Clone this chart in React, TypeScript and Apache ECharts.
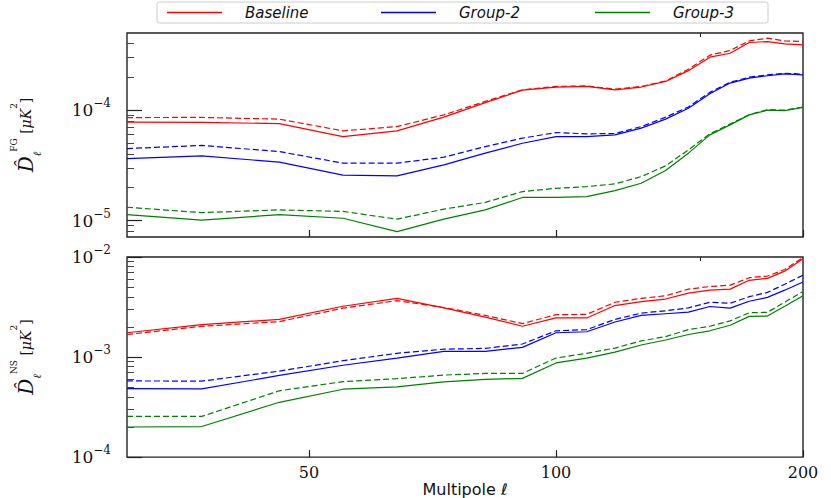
import React, { useEffect, useRef } from "react";
import * as echarts from "echarts";

// Multipole bins
const ell = [30, 37, 46, 55, 64, 73, 82, 91, 100, 109, 118, 127, 136, 145, 154, 163, 172, 181, 190, 200];

// Upper panel: FG
const fgBaselineSolid = [7.8e-5, 7.75e-5, 7.56e-5, 5.77e-5, 6.5e-5, 8.64e-5, 1.17e-4, 1.52e-4, 1.62e-4, 1.64e-4, 1.53e-4, 1.62e-4, 1.82e-4, 2.28e-4, 3.02e-4, 3.28e-4, 4.1e-4, 4.18e-4, 3.98e-4, 3.9e-4];
const fgBaselineDashed = [8.57e-5, 8.6e-5, 8.29e-5, 6.5e-5, 7.1e-5, 9.07e-5, 1.2e-4, 1.53e-4, 1.64e-4, 1.66e-4, 1.55e-4, 1.64e-4, 1.84e-4, 2.35e-4, 3.15e-4, 3.47e-4, 4.24e-4, 4.49e-4, 4.24e-4, 4.18e-4];
const fgGroup2Solid = [3.64e-5, 3.86e-5, 3.38e-5, 2.58e-5, 2.54e-5, 3.2e-5, 4.08e-5, 5.02e-5, 5.77e-5, 5.77e-5, 5.97e-5, 6.87e-5, 8.29e-5, 1.04e-4, 1.41e-4, 1.76e-4, 1.95e-4, 2.05e-4, 2.13e-4, 2.09e-4];
const fgGroup2Dashed = [4.49e-5, 4.79e-5, 4.22e-5, 3.31e-5, 3.31e-5, 3.75e-5, 4.68e-5, 5.58e-5, 6.27e-5, 6.1e-5, 6.15e-5, 7.1e-5, 8.64e-5, 1.07e-4, 1.45e-4, 1.79e-4, 1.99e-4, 2.09e-4, 2.16e-4, 2.12e-4];
const fgGroup3Solid = [1.13e-5, 1.01e-5, 1.13e-5, 1.05e-5, 7.95e-6, 1.03e-5, 1.25e-5, 1.62e-5, 1.62e-5, 1.65e-5, 1.87e-5, 2.18e-5, 2.84e-5, 4.08e-5, 5.97e-5, 7.36e-5, 9.07e-5, 1.0e-4, 9.9e-5, 1.06e-4];
const fgGroup3Dashed = [1.32e-5, 1.18e-5, 1.25e-5, 1.21e-5, 1.03e-5, 1.27e-5, 1.46e-5, 1.83e-5, 1.96e-5, 2.03e-5, 2.15e-5, 2.5e-5, 3.13e-5, 4.37e-5, 6.1e-5, 7.5e-5, 9.1e-5, 1.01e-4, 1.0e-4, 1.07e-4];

// Lower panel: NS
const nsBaselineSolid = [1.75e-3, 2.11e-3, 2.38e-3, 3.22e-3, 3.86e-3, 3.1e-3, 2.51e-3, 2.03e-3, 2.46e-3, 2.46e-3, 3.27e-3, 3.58e-3, 3.8e-3, 4.36e-3, 4.66e-3, 4.77e-3, 5.85e-3, 6.12e-3, 7.22e-3, 9.62e-3];
const nsBaselineDashed = [1.68e-3, 2.03e-3, 2.26e-3, 3.08e-3, 3.66e-3, 3.13e-3, 2.61e-3, 2.16e-3, 2.65e-3, 2.67e-3, 3.53e-3, 3.86e-3, 4.1e-3, 4.77e-3, 5.07e-3, 5.23e-3, 6.21e-3, 6.45e-3, 7.5e-3, 9.9e-3];
const nsGroup2Solid = [4.84e-4, 4.8e-4, 6.55e-4, 8.28e-4, 9.77e-4, 1.14e-3, 1.14e-3, 1.25e-3, 1.75e-3, 1.79e-3, 2.24e-3, 2.61e-3, 2.71e-3, 2.81e-3, 3.2e-3, 3.08e-3, 3.61e-3, 3.95e-3, 4.66e-3, 5.63e-3];
const nsGroup2Dashed = [5.77e-4, 5.75e-4, 7.23e-4, 9.2e-4, 1.09e-3, 1.2e-3, 1.22e-3, 1.35e-3, 1.83e-3, 1.88e-3, 2.38e-3, 2.75e-3, 2.9e-3, 3.1e-3, 3.53e-3, 3.45e-3, 4.01e-3, 4.43e-3, 5.34e-3, 6.59e-3];
const nsGroup3Solid = [2.0e-4, 2.02e-4, 3.53e-4, 4.77e-4, 5.04e-4, 5.64e-4, 5.98e-4, 6.12e-4, 8.73e-4, 9.77e-4, 1.12e-3, 1.32e-3, 1.48e-3, 1.68e-3, 1.83e-3, 2.08e-3, 2.55e-3, 2.57e-3, 3.22e-3, 4.1e-3];
const nsGroup3Dashed = [2.55e-4, 2.55e-4, 4.6e-4, 5.68e-4, 6.08e-4, 6.6e-4, 6.86e-4, 6.86e-4, 9.77e-4, 1.09e-3, 1.23e-3, 1.45e-3, 1.6e-3, 1.88e-3, 2.03e-3, 2.3e-3, 2.77e-3, 2.8e-3, 3.53e-3, 4.53e-3];

// Axis ranges and ticks
const xRange = [30, 200];
const xMajorTicks = [50, 100, 200];
const xMinorTicks = [150];
const fgRange = [7.1e-6, 5.0e-4];
const nsRange = [1e-4, 1e-2];
const fgMajorTicks = [1e-5, 1e-4];
const nsMajorTicks = [1e-4, 1e-3, 1e-2];
const fgMinorTicks = [8e-6, 9e-6, 2e-5, 3e-5, 4e-5, 5e-5, 6e-5, 7e-5, 8e-5, 9e-5, 2e-4, 3e-4, 4e-4];
const nsMinorTicks = [2e-4, 3e-4, 4e-4, 5e-4, 6e-4, 7e-4, 8e-4, 9e-4, 2e-3, 3e-3, 4e-3, 5e-3, 6e-3, 7e-3, 8e-3, 9e-3];

const groupNames = ["Baseline", "Group-2", "Group-3"];
const groupColors = ["#ff0000", "#0000ff", "#008000"];

const SERIF = "'DejaVu Serif', serif";
const SANS = "'DejaVu Sans', sans-serif";
const AXIS_COLOR = "#222";

const tickRich = {
  b: { fontFamily: SERIF, fontSize: 17, color: "#111", lineHeight: 26 },
  s: { fontFamily: SERIF, fontSize: 12, color: "#111", verticalAlign: "top" },
};

function expLabel(v: number) {
  const e = Math.round(Math.log10(v));
  return `{b|10}{s|\u2212${-e}}`;
}

function nameRich() {
  return {
    d: { fontFamily: SERIF, fontStyle: "italic", fontSize: 20, color: "#111", lineHeight: 34 },
    sub: { fontFamily: SERIF, fontStyle: "italic", fontSize: 11, color: "#111", verticalAlign: "bottom", lineHeight: 24 },
    sup: { fontFamily: SERIF, fontSize: 9, color: "#111", verticalAlign: "top", lineHeight: 22 },
    u: { fontFamily: SERIF, fontStyle: "italic", fontSize: 14, color: "#111", lineHeight: 30 },
    p: { fontFamily: SERIF, fontSize: 14, color: "#111", lineHeight: 30 },
  };
}

function xAxes(gridIndex: number, showLabels: boolean) {
  const major: any = {
    type: "log",
    logBase: 10,
    gridIndex,
    min: xRange[0],
    max: xRange[1],
    axisLine: { show: false },
    axisTick: {
      show: true,
      inside: true,
      length: 7,
      lineStyle: { color: AXIS_COLOR, width: 1.2 },
      customValues: xMajorTicks,
    },
    axisLabel: {
      show: showLabels,
      customValues: xMajorTicks,
      margin: 7,
      formatter: (v: number) => `{t|${v}}`,
      rich: { t: { fontFamily: SERIF, fontSize: 16, color: "#111" } },
    },
    splitLine: { show: false },
    minorTick: { show: false },
  };
  if (showLabels) {
    major.name = "Multipole \u2113";
    major.nameLocation = "middle";
    major.nameGap = 20;
    major.nameTextStyle = { fontFamily: SANS, fontSize: 16, color: "#111" };
  }
  const minor: any = {
    type: "log",
    logBase: 10,
    gridIndex,
    min: xRange[0],
    max: xRange[1],
    axisLine: { show: false },
    axisTick: {
      show: true,
      inside: true,
      length: 4,
      lineStyle: { color: AXIS_COLOR, width: 1 },
      customValues: xMinorTicks,
    },
    axisLabel: { show: false },
    splitLine: { show: false },
  };
  return [major, minor];
}

function yAxes(gridIndex: number, range: number[], majors: number[], minors: number[], tag: string) {
  const major: any = {
    type: "log",
    logBase: 10,
    gridIndex,
    position: "left",
    min: range[0],
    max: range[1],
    axisLine: { show: false },
    axisTick: {
      show: true,
      inside: true,
      length: 15,
      lineStyle: { color: AXIS_COLOR, width: 1.2 },
      customValues: majors,
    },
    axisLabel: {
      show: true,
      customValues: majors,
      margin: 16,
      formatter: (v: number) => expLabel(v),
      rich: tickRich,
    },
    splitLine: { show: false },
    minorTick: { show: false },
    name: `{d|D\u0302}{sub|\u2113}{sup|${tag}}{p| [}{u|\u03bcK}{sup|2}{p|]}`,
    nameLocation: "middle",
    nameRotate: 90,
    nameGap: 84,
    nameTextStyle: { rich: nameRich() },
  };
  const minor: any = {
    type: "log",
    logBase: 10,
    gridIndex,
    position: "left",
    min: range[0],
    max: range[1],
    axisLine: { show: false },
    axisTick: {
      show: true,
      inside: true,
      length: 7,
      lineStyle: { color: "#444", width: 1 },
      customValues: minors,
    },
    axisLabel: { show: false },
    splitLine: { show: false },
  };
  return [major, minor];
}

function pairs(values: number[]) {
  return ell.map((l, i) => [l, values[i]]);
}

function lineSeries(name: string, color: string, values: number[], dashed: boolean, panel: number) {
  return {
    type: "line",
    name,
    xAxisIndex: panel * 2,
    yAxisIndex: panel * 2,
    data: pairs(values),
    symbol: "none",
    showSymbol: false,
    smooth: false,
    color,
    lineStyle: { color, width: 1.2, type: dashed ? [6, 3] : "solid" },
    itemStyle: { color },
    z: dashed ? 2 : 3,
  };
}

const fgSolid = [fgBaselineSolid, fgGroup2Solid, fgGroup3Solid];
const fgDashed = [fgBaselineDashed, fgGroup2Dashed, fgGroup3Dashed];
const nsSolid = [nsBaselineSolid, nsGroup2Solid, nsGroup3Solid];
const nsDashed = [nsBaselineDashed, nsGroup2Dashed, nsGroup3Dashed];

export default function App() {
  const ref = useRef<HTMLDivElement>(null);
  useEffect(() => {
    if (!ref.current) return;
    const chart = echarts.init(ref.current, null, { renderer: "svg" });
    const series: any[] = [];
    groupNames.forEach((n, i) => series.push(lineSeries(n, groupColors[i], fgSolid[i], false, 0)));
    groupNames.forEach((n, i) => series.push(lineSeries(n, groupColors[i], nsSolid[i], false, 1)));
    groupNames.forEach((n, i) => series.push(lineSeries(n, groupColors[i], fgDashed[i], true, 0)));
    groupNames.forEach((n, i) => series.push(lineSeries(n, groupColors[i], nsDashed[i], true, 1)));

    const option: any = {
      animation: false,
      backgroundColor: "#ffffff",
      legend: {
        data: groupNames,
        icon: "rect",
        left: 157,
        top: 2,
        orient: "horizontal",
        itemWidth: 55,
        itemHeight: 1.3,
        itemGap: 46,
        padding: [3, 5, 3, 10],
        borderColor: "#cccccc",
        borderWidth: 1,
        borderRadius: 2,
        backgroundColor: "#ffffff",
        selectedMode: false,
        textStyle: {
          fontFamily: SANS,
          fontStyle: "italic",
          fontSize: 15,
          color: "#111",
          width: 90,
          lineHeight: 14,
          padding: [0, 0, 0, 18],
        },
      },
      grid: [
        { left: 127, top: 33, width: 676, height: 204, show: true, borderColor: AXIS_COLOR, borderWidth: 1.4, backgroundColor: "transparent" },
        { left: 127, top: 257, width: 676, height: 204, show: true, borderColor: AXIS_COLOR, borderWidth: 1.4, backgroundColor: "transparent" },
      ],
      xAxis: [...xAxes(0, false), ...xAxes(1, true)],
      yAxis: [
        ...yAxes(0, fgRange, fgMajorTicks, fgMinorTicks, "FG"),
        ...yAxes(1, nsRange, nsMajorTicks, nsMinorTicks, "NS"),
      ],
      series,
    };
    chart.setOption(option);
    return () => chart.dispose();
  }, []);
  return (
    <div
      ref={ref}
      style={{ position: "fixed", left: 0, top: 0, width: 831, height: 498, background: "#fff" }}
    />
  );
}
